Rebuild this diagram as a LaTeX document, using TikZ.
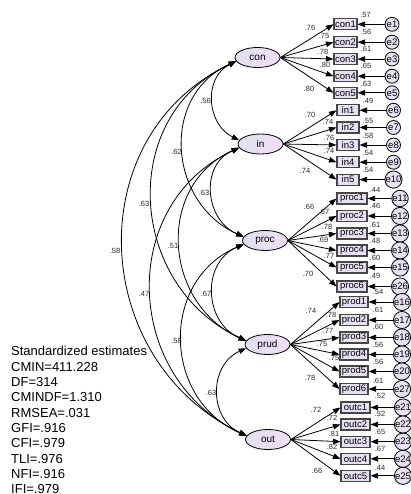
\documentclass[tikz,border=0pt]{standalone}
\usepackage{fontspec}
\setmainfont{Liberation Sans}
\usetikzlibrary{arrows.meta,shapes.geometric}
\definecolor{lavL}{RGB}{224,224,240}
\definecolor{lavR}{RGB}{242,222,246}
\definecolor{boxfill}{RGB}{232,224,244}
\definecolor{boxline}{RGB}{70,70,70}
\definecolor{numc}{RGB}{40,40,50}
\begin{document}
\begin{tikzpicture}[x=1pt,y=-1pt,
  >={Triangle[length=7.5pt,width=5.5pt]},
  conn/.style={line width=0.8pt,->},
  cov/.style={line width=0.8pt,<->},
  latent/.style={ellipse, draw, line width=0.8pt, minimum width=45pt, minimum height=20pt, inner sep=0pt, left color=lavL, right color=lavR, font=\fontsize{10}{12}\selectfont},
  item/.style={rectangle, draw=boxline, line width=1.1pt, fill=boxfill, minimum height=11pt, inner sep=0pt, font=\fontsize{9.5}{11}\selectfont},
  err/.style={circle, draw, line width=0.8pt, fill=boxfill, minimum size=14pt, inner sep=0pt, font=\fontsize{9.5}{11}\selectfont},
  num/.style={font=\fontsize{7.5}{8}\selectfont, text=numc, inner sep=0pt},
  stat/.style={font=\fontsize{13}{15}\selectfont, inner sep=0pt, anchor=base west}
]
\useasboundingbox (0,0) rectangle (411,494);

% latent variables
\node[latent] (Lcon) at (257.5,57.5) {con};
\node[latent] (Lin) at (260.5,144) {in};
\node[latent] (Lproc) at (265,240.5) {proc};
\node[latent] (Lprud) at (267.5,344.5) {prud};
\node[latent] (Lout) at (268,439.5) {out};

% con items
\foreach \n/\y in {1/24.3,2/42.2,3/59,4/76.2,5/92.8} {
  \node[item, minimum width=23pt] (con\n) at (345.5,\y) {con\n};
  \node[err] (e\n) at (392,\y) {e\n};
  \draw[conn] (e\n.west) -- (con\n.east);
  \draw[conn] (Lcon.east) -- (con\n.west);
}
% in items
\foreach \n/\y/\e in {1/110.3/6,2/127.5/7,3/145/8,4/162.2/9,5/179.6/10} {
  \node[item, minimum width=22pt] (in\n) at (348,\y) {in\n};
  \node[err] (e\e) at (393.5,\y) {e\e};
  \draw[conn] (e\e.west) -- (in\n.east);
  \draw[conn] (Lin.east) -- (in\n.west);
}
% proc items
\foreach \n/\y/\e in {1/198.5/11,2/216/12,3/233.5/13,4/250.5/14,5/267.5/15,6/286.5/26} {
  \node[item, minimum width=30pt] (proc\n) at (352,\y) {proc\n};
  \node[err] (e\e) at (400,\y) {e\e};
  \draw[conn] (e\e.west) -- (proc\n.east);
  \draw[conn] (Lproc.east) -- (proc\n.west);
}
% prod items
\foreach \n/\y/\e in {1/302/16,2/320/17,3/337.5/18,4/354.5/19,5/371.5/20,6/389/27} {
  \node[item, minimum width=28pt] (prod\n) at (354,\y) {prod\n};
  \node[err] (e\e) at (402,\y) {e\e};
  \draw[conn] (e\e.west) -- (prod\n.east);
  \draw[conn] (Lprud.east) -- (prod\n.west);
}
% outc items
\foreach \n/\y/\e in {1/407.5/21,2/424.5/22,3/441.7/23,4/458.8/24,5/475.8/25} {
  \node[item, minimum width=29pt] (outc\n) at (355.5,\y) {outc\n};
  \node[err] (e\e) at (403,\y) {e\e};
  \draw[conn] (e\e.west) -- (outc\n.east);
  \draw[conn] (Lout.east) -- (outc\n.west);
}

% covariances
\draw[cov] (Lcon.190) .. controls (203.3,77.5) and (206.3,124) .. (Lin.170);
\draw[cov] (Lin.190) .. controls (200,164.6) and (204.5,219.9) .. (Lproc.170);
\draw[cov] (Lproc.190) .. controls (201.2,262.5) and (203.7,322.5) .. (Lprud.170);
\draw[cov] (Lprud.190) .. controls (208.4,365.3) and (208.9,418.7) .. (Lout.170);
\draw[cov] (Lcon.190) .. controls (160.2,95.3) and (167.7,202.7) .. (Lproc.170);
\draw[cov] (Lin.190) .. controls (155.6,185) and (162.6,303.5) .. (Lprud.170);
\draw[cov] (Lproc.190) .. controls (159.5,280.3) and (162.5,399.7) .. (Lout.170);
\draw[cov] (Lcon.190) .. controls (117.3,116.6) and (127.3,285.4) .. (Lprud.170);
\draw[cov] (Lin.190) .. controls (116.6,204.7) and (124.1,378.8) .. (Lout.170);
\draw[cov] (Lcon.190) .. controls (78.5,136.3) and (89,360.7) .. (Lout.170);

% covariance labels
\foreach \x/\y/\t [count=\i] in {205.5/101/.56, 176.5/151.5/.62, 144/204/.63, 115/251/.58, 204/192.5/.63, 173/246/.51, 144/294/.47, 206/293.5/.67, 176.5/340.5/.58, 211/393/.63}
  \node[num] (c\i) at (\x,\y) {\t};

% loading labels
\foreach \x/\y/\t [count=\i] in {310/28/.76, 324/35.5/.75, 323/52/.78, 325/65/.80, 309/89/.80,
  310/114.5/.70, 328/121.5/.74, 329/137.5/.76, 329/151/.74, 305/170.5/.74,
  309/207/.66, 324/212/.67, 327/226.5/.78, 323/239.5/.69, 329/255.5/.77, 308/274/.70,
  311/311/.74, 331/314.5/.78, 328/330.5/.77, 322/344/.75, 334/358/.75, 310/378/.78,
  316/410/.72, 332/417.5/.72, 334/434/.81, 332/447/.82, 317/471/.66}
  \node[num] (l\i) at (\x,\y) {\t};

% squared multiple correlations
\foreach \x/\y/\t [count=\i] in {365.5/15/.57, 366/32/.56, 366/49/.61, 366/66/.65, 366/84/.63,
  368/101/.49, 368/120.5/.55, 368/136/.58, 368/153/.54, 368/169.5/.54,
  375/189.5/.44, 375/206/.46, 375/225/.61, 375/241/.48, 375/258/.60, 375/275.5/.49,
  378/292/.54, 378/310/.61, 378/327/.60, 378/345/.56, 378/362/.56, 378/381/.61,
  380/396/.52, 380/414/.52, 380/432/.65, 380/449/.67, 380/468/.44}
  \node[num] (r\i) at (\x,\y) {\t};

% fit statistics
\foreach \t [count=\i from 0] in {Standardized estimates, CMIN=411.228, DF=314, CMINDF=1.310, RMSEA=.031, GFI=.916, CFI=.979, TLI=.976, NFI=.916, IFI=.979}
  \node[stat] (s\i) at (11,355.7+15.33*\i) {\t};
\end{tikzpicture}
\end{document}
